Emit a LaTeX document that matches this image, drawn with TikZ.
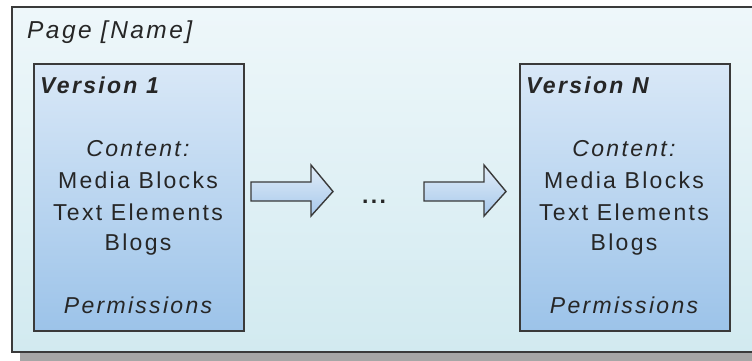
\documentclass[tikz,border=0pt]{standalone}
\usepackage{fontspec}
\setmainfont{Liberation Sans}
\newfontfamily\spaced[LetterSpace=10]{Liberation Sans}
\newcommand\labelfont{\spaced\fontsize{23bp}{30bp}\selectfont}
\definecolor{frametop}{HTML}{EEF7FA}
\definecolor{framebot}{HTML}{D2EAF0}
\definecolor{boxtop}{HTML}{D9E8F7}
\definecolor{boxbot}{HTML}{9CC3E9}
\definecolor{arrtop}{HTML}{E2EDF8}
\definecolor{arrbot}{HTML}{A6C8EB}
\definecolor{edge}{HTML}{3A3A3A}
\definecolor{shadowgray}{HTML}{A6A6A6}
\tikzset{
  txt/.style={inner sep=0pt, anchor=base, text=black!85, font=\labelfont},
  itxt/.style={txt, font=\labelfont\itshape},
  ttl/.style={txt, anchor=base west, font=\labelfont\bfseries\itshape},
  versionbox/.style={draw=edge, line width=1.6bp, top color=boxtop, bottom color=boxbot,
    minimum width=210bp, minimum height=267bp, inner sep=0pt, anchor=north west},
  bigarrow/.style={draw=edge, line width=1.4bp, top color=arrtop, bottom color=arrbot, line join=miter},
}
\begin{document}
\begin{tikzpicture}[x=1bp, y=-1bp]
\useasboundingbox (0,0) rectangle (752,360);
% drop shadow and page frame
\fill[shadowgray] (20,15) rectangle (780,370);
\path[draw=edge, line width=2bp, top color=frametop, bottom color=framebot] (12,7) rectangle (790,352);
\node[itxt, anchor=base west, font=\spaced\fontsize{24.5bp}{30bp}\selectfont\itshape] (page) at (27,38) {Page [Name]};

% the two versions
\node[versionbox] (v1) at (33,63) {};
\node[versionbox] (vn) at (519,63) {};

\foreach \b/\n/\cx in {v1/1/138, vn/N/624}{
  \node[ttl] (\b-title) at (\b.north west) [xshift=7bp, yshift=-30bp] {Version \n};
  \node[itxt] (\b-content) at (\cx,156) {Content:};
  \node[txt] (\b-media) at (\cx,188) {Media Blocks};
  \node[txt] (\b-text) at (\cx,220) {Text Elements};
  \node[txt] (\b-blogs) at (\cx,250) {Blogs};
  \node[itxt] (\b-perm) at (\cx,313) {Permissions};
}

% block arrows leading from one version to the next
\foreach \x in {251,424}{
  \draw[bigarrow] (\x,182) -- ++(60,0) -- ++(0,-17) -- ++(22,26.5) -- ++(-22,24.5)
    -- ++(0,-15) -- ++(-60,0) -- cycle;
}
\node[txt, font=\labelfont\bfseries] (dots) at (374,203) {...};
\end{tikzpicture}
\end{document}
